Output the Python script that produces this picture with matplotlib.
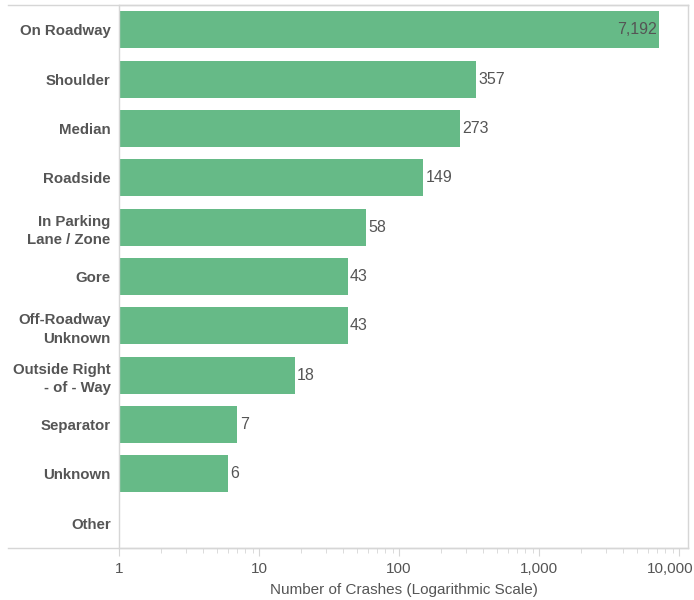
"""Crashes by location, horizontal bars on a log scale."""

import matplotlib
matplotlib.use("Agg")
import matplotlib.pyplot as plt
from matplotlib.lines import Line2D
from matplotlib.ticker import FixedLocator, LogLocator, NullFormatter
from matplotlib.transforms import ScaledTranslation

categories = ["On Roadway", "Shoulder", "Median", "Roadside",
              "In Parking\nLane / Zone", "Gore", "Off-Roadway\nUnknown",
              "Outside Right\n- of - Way", "Separator", "Unknown", "Other"]
crashes = [7192, 357, 273, 149, 58, 43, 43, 18, 7, 6, 0]
tick_values = [1, 10, 100, 1000, 10000]
tick_labels = ["1", "10", "100", "1,000", "10,000"]

plt.rcParams['font.family'] = ['Liberation Sans', 'DejaVu Sans']
text_color = "#555555"
line_color = "#d6d6d6"
bar_color = "#66ba87"

fig = plt.figure(figsize=(6.94, 6.0), dpi=100)
W, H = 694, 600
ax = fig.add_axes([119 / W, 1 - 548 / H, (688 - 119) / W, (548 - 5) / H])

ypos = list(range(len(categories)))
# "Other" has no crashes, so nothing is drawn for it on the log axis
vals = [v if v > 0 else float("nan") for v in crashes]
ax.barh(ypos, vals, left=0.0001, height=0.75, color=bar_color)

ax.set_xscale("log")
ax.set_xlim(1, 11600)
ax.set_ylim(len(categories) - 0.5, -0.5)

ax.xaxis.set_major_locator(FixedLocator(tick_values))
ax.set_xticklabels(tick_labels)
ax.xaxis.set_minor_locator(LogLocator(base=10, subs=range(2, 10)))
ax.xaxis.set_minor_formatter(NullFormatter())
ax.tick_params(axis="x", which="major", length=6, color=line_color,
               labelcolor=text_color, labelsize=11, pad=4)
ax.tick_params(axis="x", which="minor", length=3.5, color=line_color)
# last label is pulled left so it stays inside the figure
last = ax.get_xticklabels()[-1]
last.set_transform(last.get_transform() + ScaledTranslation(-9 / 100, 0, fig.dpi_scale_trans))

ax.set_yticks(ypos)
ax.set_yticklabels(categories, fontweight="bold", color=text_color,
                   fontsize=10.8, linespacing=1.4)
ax.tick_params(axis="y", length=0, pad=6)

for side in ["top", "bottom", "left", "right"]:
    ax.spines[side].set_color(line_color)
    ax.spines[side].set_linewidth(1)

# horizontal rules that run across the label area too
for yy in [5, 548]:
    fig.add_artist(Line2D([8 / W, 688 / W], [1 - yy / H, 1 - yy / H],
                          color=line_color, lw=1))

for y, v in zip(ypos, crashes):
    if v <= 0:
        continue
    label = "{:,}".format(v)
    if v > 5000:
        ax.text(v / 1.04, y, label, ha="right", va="center",
                color=text_color, fontsize=11.5)
    else:
        ax.text(v * 1.04, y, label, ha="left", va="center",
                color=text_color, fontsize=11.5)

ax.set_xlabel("Number of Crashes (Logarithmic Scale)", color=text_color,
              fontsize=11, labelpad=5)

fig.savefig("out.png", dpi=100)
